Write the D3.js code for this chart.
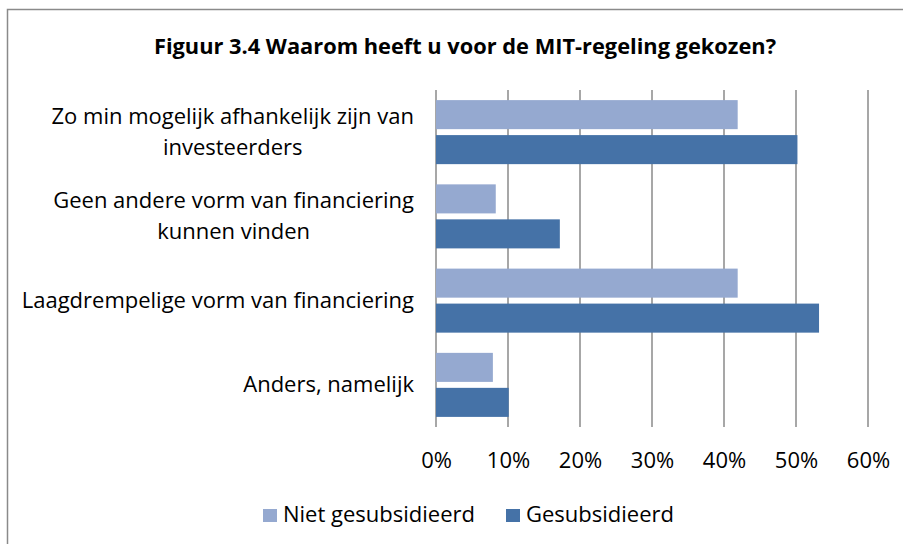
<!DOCTYPE html>
<html>
<head>
<meta charset="utf-8">
<script src="https://cdn.jsdelivr.net/npm/d3@7"></script>
<style>
  body { margin: 0; background: #fff; }
  svg { display: block; font-family: "Open Sans", sans-serif; }
</style>
</head>
<body>
<div id="chart"></div>
<script>
// data
const categories = [
    "Zo min mogelijk afhankelijk zijn van investeerders",
    "Geen andere vorm van financiering kunnen vinden",
    "Laagdrempelige vorm van financiering",
    "Anders, namelijk"
];
// how Excel wrapped the category labels
const categoryLines = [
    ["Zo min mogelijk afhankelijk zijn van", "investeerders"],
    ["Geen andere vorm van financiering", "kunnen vinden"],
    ["Laagdrempelige vorm van financiering"],
    ["Anders, namelijk"]
];
const seriesNames = ["Niet gesubsidieerd", "Gesubsidieerd"];
const nietGesubsidieerd = [0.419, 0.083, 0.419, 0.079];
const gesubsidieerd = [0.502, 0.172, 0.532, 0.101];
const xTicks = [0, 0.1, 0.2, 0.3, 0.4, 0.5, 0.6];
const title = "Figuur 3.4 Waarom heeft u voor de MIT-regeling gekozen?";

const colors = ["#95a9d0", "#4572a7"];

const width = 903, height = 544;
const margin = {top: 90, right: 35, bottom: 117, left: 436};
const fontSize = 22;

const svg = d3.select('#chart')
    .append('svg')
    .attr('width', width)
    .attr('height', height);

svg.append('rect')
    .attr('width', width).attr('height', height)
    .attr('fill', '#fff');

// outer chart frame (runs off the right/bottom edge)
svg.append('rect')
    .attr('x', 7.5).attr('y', 9.5)
    .attr('width', width + 20).attr('height', height + 20)
    .attr('fill', 'none')
    .attr('stroke', '#8a8a8a')
    .attr('stroke-width', 1.5);

svg.append('text')
    .attr('x', 465).attr('y', 54)
    .attr('text-anchor', 'middle')
    .attr('font-weight', 'bold')
    .attr('font-size', 21.8)
    .attr('fill', '#000')
    .text(title);

const scaleX = d3.scaleLinear()
    .domain([0, 0.6])
    .range([margin.left, width - margin.right]);

const scaleY = d3.scaleBand()
    .domain(categories)
    .range([margin.top, height - margin.bottom])
    .paddingInner(0.24)
    .paddingOuter(0.12);

const scaleSeries = d3.scaleBand()
    .domain(seriesNames)
    .range([0, scaleY.bandwidth()])
    .paddingInner(0.17);

// vertical gridlines
svg.append('g')
    .selectAll('line')
    .data(xTicks)
    .join('line')
    .attr('x1', d => scaleX(d)).attr('x2', d => scaleX(d))
    .attr('y1', margin.top).attr('y2', height - margin.bottom)
    .attr('stroke', '#8a8a8a')
    .attr('stroke-width', 1.5);

// x axis labels
const xAxis = svg.append('g')
    .attr('transform', `translate(0, ${height - margin.bottom})`)
    .call(d3.axisBottom(scaleX).tickValues(xTicks).tickFormat(d3.format('.0%')).tickSize(0).tickPadding(0));
xAxis.select('.domain').remove();
xAxis.selectAll('text')
    .attr('y', 41)
    .attr('dy', 0)
    .attr('font-size', fontSize)
    .attr('font-family', '"Open Sans", sans-serif')
    .attr('fill', '#000');

// bars
const rows = categories.map((c, i) => ({cat: c, values: [nietGesubsidieerd[i], gesubsidieerd[i]]}));

svg.append('g')
    .selectAll('g')
    .data(rows)
    .join('g')
    .attr('transform', d => `translate(0, ${scaleY(d.cat)})`)
    .selectAll('rect')
    .data(d => d.values.map((v, j) => ({series: seriesNames[j], value: v, j})))
    .join('rect')
    .attr('x', scaleX(0))
    .attr('y', d => scaleSeries(d.series))
    .attr('width', d => scaleX(d.value) - scaleX(0))
    .attr('height', scaleSeries.bandwidth())
    .attr('fill', d => colors[d.j]);

// category labels, lines centred inside a right-aligned block
const lineHeight = 31;
const labelRight = margin.left - 22;
categories.forEach((c, i) => {
    const lines = categoryLines[i];
    const cy = scaleY(c) + scaleY.bandwidth() / 2;
    const g = svg.append('g');
    const texts = g.selectAll('text')
        .data(lines)
        .join('text')
        .attr('font-size', fontSize)
        .attr('fill', '#000')
        .attr('text-anchor', 'middle')
        .attr('y', (d, k) => cy + (k - (lines.length - 1) / 2) * lineHeight + 7)
        .text(d => d);
    const widest = d3.max(texts.nodes(), n => n.getComputedTextLength());
    texts.attr('x', labelRight - widest / 2);
});

// legend
const legendItems = [
    {name: seriesNames[0], x: 263},
    {name: seriesNames[1], x: 506}
];
const legend = svg.append('g')
    .selectAll('g')
    .data(legendItems)
    .join('g')
    .attr('transform', d => `translate(${d.x}, 509)`);
legend.append('rect')
    .attr('width', 14).attr('height', 13)
    .attr('fill', (d, i) => colors[i]);
legend.append('text')
    .attr('x', 20).attr('y', 13)
    .attr('font-size', fontSize)
    .attr('fill', '#000')
    .text(d => d.name);
</script>
</body>
</html>
